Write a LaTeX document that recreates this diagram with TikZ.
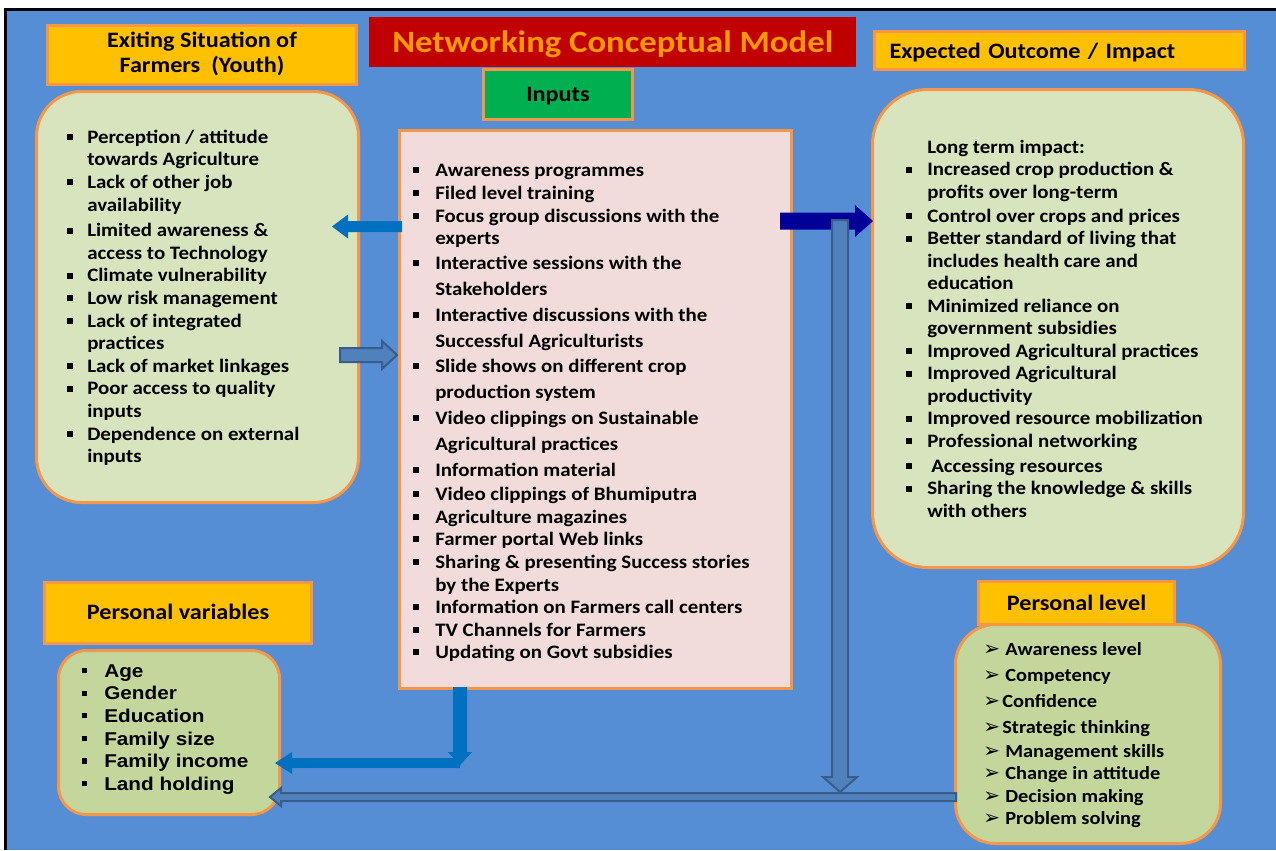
\documentclass[tikz,border=0pt]{standalone}
\usepackage{fontspec}
\setmainfont{Carlito}[FakeStretch=1.1]
\newfontfamily\titlefont{Carlito}[FakeStretch=1.12]
\newfontfamily\arialfont{Liberation Sans}[FakeStretch=1.12]
\newfontfamily\djv{DejaVu Sans}
\usetikzlibrary{calc}
\definecolor{bgblue}{HTML}{558ED5}
\definecolor{ylw}{HTML}{FFC000}
\definecolor{brd}{HTML}{F79646}
\definecolor{grn}{HTML}{00B050}
\definecolor{ttlred}{HTML}{C00000}
\definecolor{ttlorg}{HTML}{FF9A00}
\definecolor{lgreen}{HTML}{D7E4BD}
\definecolor{mgreen}{HTML}{C3D69B}
\definecolor{pinkc}{HTML}{F2DCDB}
\definecolor{abl}{HTML}{0070C0}
\definecolor{navyc}{HTML}{000099}
\definecolor{steel}{HTML}{4F81BD}
\definecolor{steeld}{HTML}{385D8A}
\newlength\bw
\newcommand\sq{\makebox[\bw][l]{\raisebox{2.25pt}{\rule{4.5pt}{4.5pt}}}}
\newcommand\sqs{\makebox[\bw][l]{\raisebox{3pt}{\rule{3.9pt}{3.9pt}}}}
\newcommand\ind{\hspace*{\bw}}
\newcommand\arw[1]{\makebox[#1][l]{\djv\fontsize{15pt}{15pt}\selectfont\raisebox{-0.3pt}{➢}}}
\newcommand\fixskip{\lineskiplimit=-100pt\lineskip=0pt}
\newcommand\arrR[6]{\path[#1] ($(#2)+(0,-#4)$) -- ($(#3)+(-#6,-#4)$) -- ($(#3)+(-#6,-#5)$) -- (#3) -- ($(#3)+(-#6,#5)$) -- ($(#3)+(-#6,#4)$) -- ($(#2)+(0,#4)$) -- cycle;}
\newcommand\arrL[6]{\path[#1] ($(#2)+(0,-#4)$) -- ($(#3)+(#6,-#4)$) -- ($(#3)+(#6,-#5)$) -- (#3) -- ($(#3)+(#6,#5)$) -- ($(#3)+(#6,#4)$) -- ($(#2)+(0,#4)$) -- cycle;}
\newcommand\arrD[6]{\path[#1] ($(#2)+(-#4,0)$) -- ($(#3)+(-#4,-#6)$) -- ($(#3)+(-#5,-#6)$) -- (#3) -- ($(#3)+(#5,-#6)$) -- ($(#3)+(#4,-#6)$) -- ($(#2)+(#4,0)$) -- cycle;}
\tikzset{
  hdr/.style={fill=ylw, draw=brd, line width=2.25pt, inner sep=0pt, anchor=north west,
    font=\bfseries\fontsize{16.5pt}{18.75pt}\selectfont},
  rbox/.style={draw=brd, line width=2.25pt, anchor=north west, inner sep=0pt},
  lst/.style={anchor=north west, inner sep=0pt, align=left},
  flat/.style={fill=abl},
  stl/.style={fill=steel, draw=steeld, line width=1.5pt}
}
\begin{document}
\begin{tikzpicture}[x=0.75pt,y=-0.75pt]
\useasboundingbox (0,0) rectangle (1276,850);
% background and frame
\fill[white] (0,0) rectangle (1276,850);
\fill[bgblue] (7,10) rectangle (1276,850);
\fill[black] (4,8) rectangle (1276,10.5);
\fill[black] (4,8) rectangle (7,850);

% title
\node[fill=ttlred, anchor=north west, inner sep=0pt, minimum width=365.25pt, minimum height=37.5pt,
  text=ttlorg, font=\titlefont\bfseries\fontsize{23.25pt}{26pt}\selectfont,
  text height=17.25pt, text depth=2.25pt] (title) at (369,17) {Networking Conceptual Model};

% headers
\node[hdr, minimum width=231.75pt, minimum height=44.25pt] (exhdr) at (46,24)
  {\begin{tabular}{@{}c@{}}Exiting Situation of\\Farmers\ \ (Youth)\end{tabular}};
\node[hdr, fill=grn, minimum width=111.75pt, minimum height=37.5pt, text height=12.75pt, text depth=2.25pt]
  (inhdr) at (482,68) {Inputs};
\node[hdr, minimum width=277.5pt, minimum height=28.5pt, text width=255pt, align=left,
  text height=13.5pt, text depth=1.5pt] (outhdr) at (873,30) {Expected Outcome / Impact};
\node[hdr, minimum width=200.25pt, minimum height=45.75pt, text height=12pt, text depth=2.25pt]
  (pvhdr) at (43,581) {Personal variables};
\node[hdr, minimum width=147pt, minimum height=32.25pt, text height=12.75pt, text depth=1.5pt]
  (plhdr) at (977,580) {Personal level};

% main boxes
\node[rbox, fill=lgreen, rounded corners=33.75pt, minimum width=241.5pt, minimum height=308.25pt]
  (lbox) at (35,90) {};
\node[rbox, fill=pinkc, minimum width=294pt, minimum height=418.5pt] (cbox) at (398,129) {};
\node[rbox, fill=lgreen, rounded corners=41.25pt, minimum width=278.25pt, minimum height=358.5pt]
  (rbox) at (871,88) {};
\node[rbox, fill=mgreen, rounded corners=21pt, minimum width=165.75pt, minimum height=123pt]
  (pvbox) at (57,649) {};
\node[rbox, fill=mgreen, rounded corners=30pt, minimum width=198.75pt, minimum height=164.25pt]
  (plbox) at (954,623) {};

% left list
\node[lst, font=\bfseries\fontsize{14.25pt}{16.95pt}\selectfont\fixskip\setlength\bw{15pt}] (llist) at (67,123) {%
\rule{0pt}{15pt}\sq Perception / attitude\\
\ind towards Agriculture\\
\sq Lack of other job\\
\ind availability\\[2.25pt]
\sq Limited awareness \&\\
\ind access to Technology\\
\sq Climate vulnerability\\
\sq Low risk management\\
\sq Lack of integrated\\
\ind practices\\
\sq Lack of market linkages\\
\sq Poor access to quality\\
\ind inputs\\
\sq Dependence on external\\
\ind inputs};

% centre list
\node[lst, font=\bfseries\fontsize{14.25pt}{17.25pt}\selectfont\fixskip\setlength\bw{16.5pt}] (clist) at (413,156) {%
\rule{0pt}{15pt}\sq Awareness programmes\\
\sq Filed level training\\
\sq Focus group discussions with the\\[-0.75pt]
\ind experts\\[1.5pt]
\sq Interactive sessions with the\\[2.25pt]
\ind Stakeholders\\[2.25pt]
\sq Interactive discussions with the\\[2.25pt]
\ind Successful Agriculturists\\[1.5pt]
\sq Slide shows on different crop\\[2.25pt]
\ind production system\\[2.25pt]
\sq Video clippings on Sustainable\\[2.25pt]
\ind Agricultural practices\\[2.25pt]
\sq Information material\\[0.75pt]
\sq Video clippings of Bhumiputra\\
\sq Agriculture magazines\\[-0.75pt]
\sq Farmer portal Web links\\
\sq Sharing \& presenting Success stories\\
\ind by the Experts\\[-0.75pt]
\sq Information on Farmers call centers\\
\sq TV Channels for Farmers\\[-0.75pt]
\sq Updating on Govt subsidies};

% right list
\node[lst, font=\bfseries\fontsize{14.25pt}{16.875pt}\selectfont\fixskip\setlength\bw{15.75pt}] (rlist) at (906,133) {%
\rule{0pt}{15pt}\ind Long term impact:\\
\sq Increased crop production \&\\
\ind profits over long-term\\[1.125pt]
\sq Control over crops and prices\\
\sq Better standard of living that\\
\ind includes health care and\\
\ind education\\
\sq Minimized reliance on\\
\ind government subsidies\\
\sq Improved Agricultural practices\\
\sq Improved Agricultural\\
\ind productivity\\
\sq Improved resource mobilization\\
\sq Professional networking\\[1.875pt]
\sq\hspace{3pt}Accessing resources\\
\sq Sharing the knowledge \& skills\\
\ind with others};

% personal variables list
\node[lst, font=\arialfont\bfseries\fontsize{13.9pt}{16.95pt}\selectfont\fixskip\setlength\bw{16.5pt}] (pvlist) at (82,657) {%
\rule{0pt}{15pt}\sqs Age\\
\sqs Gender\\
\sqs Education\\
\sqs Family size\\
\sqs Family income\\
\sqs Land holding};

% personal level list
\node[lst, font=\bfseries\fontsize{13.9pt}{17.25pt}\selectfont\fixskip] (pllist) at (983,635) {%
\rule{0pt}{15pt}\arw{16.5pt}Awareness level\\[2.25pt]
\arw{16.5pt}Competency\\[2.25pt]
\arw{14.25pt}Confidence\\[2.25pt]
\arw{14.25pt}Strategic thinking\\[0.75pt]
\arw{16.5pt}Management skills\\[-0.75pt]
\arw{16.5pt}Change in attitude\\
\arw{16.5pt}Decision making\\[-0.75pt]
\arw{16.5pt}Problem solving};

% connectors (block arrows)
\coordinate (a1s) at (402,226.5); \coordinate (a1e) at (332,226.5);
\coordinate (a2s) at (340,355);   \coordinate (a2e) at (397,355);
\coordinate (a3s) at (780,221);   \coordinate (a3e) at (873,221);
\coordinate (a4s) at (840,220);   \coordinate (a4e) at (840,792);
\coordinate (a5s) at (956,797);   \coordinate (a5e) at (270,797);
\coordinate (a6s) at (460,687);   \coordinate (a6e) at (460,765);
\coordinate (a7s) at (460,763);   \coordinate (a7e) at (275,763);

\arrL{flat}{a1s}{a1e}{5.5}{12}{16}
\arrR{stl}{a2s}{a2e}{7}{14}{15}
\arrR{fill=navyc}{a3s}{a3e}{8.5}{16}{18}
\arrD{stl}{a4s}{a4e}{8}{17}{15}
\arrL{stl}{a5s}{a5e}{4}{9}{11}
\arrL{flat}{a7s}{a7e}{5}{11}{17}
\arrD{flat}{a6s}{a6e}{7}{12}{13}
\end{tikzpicture}
\end{document}
